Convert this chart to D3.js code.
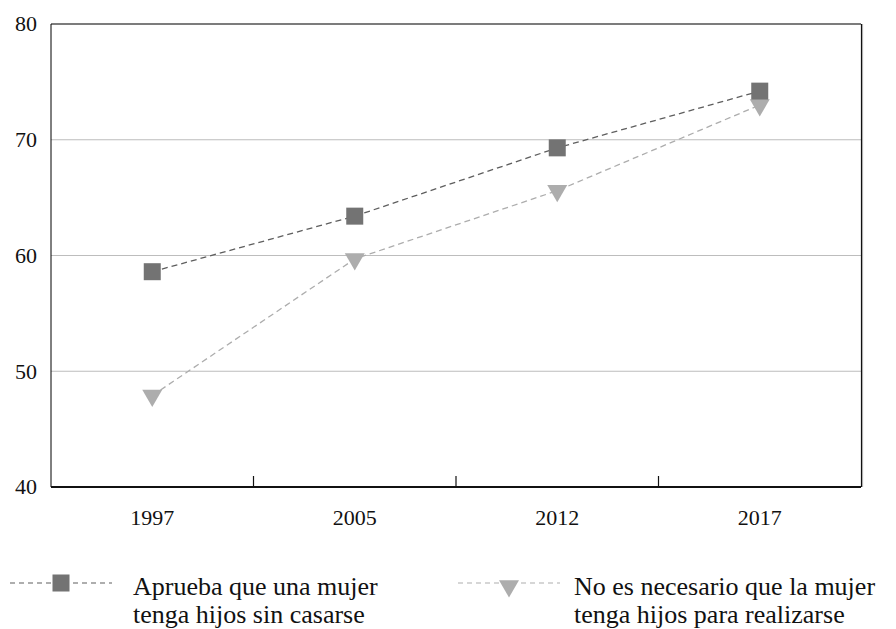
<!DOCTYPE html>
<html>
<head>
<meta charset="utf-8">
<script src="https://cdn.jsdelivr.net/npm/d3@7"></script>
<style>
  html, body { margin: 0; padding: 0; background: #fff; }
  svg { display: block; font-family: "Liberation Serif", "Times New Roman", serif; }
</style>
</head>
<body>
<svg id="chart" width="896" height="629"></svg>
<script>
const years = ["1997", "2005", "2012", "2017"];
const apruebaValues = [58.6, 63.4, 69.3, 74.2];
const noNecesarioValues = [47.9, 59.7, 65.6, 73.0];
const yTicks = [40, 50, 60, 70, 80];
const seriesNames = [
  ["Aprueba que una mujer", "tenga hijos sin casarse"],
  ["No es necesario que la mujer", "tenga hijos para realizarse"]
];

(function () {
const svg = d3.select("#chart");
const pL = 51, pR = 861, pT = 24, pB = 487;

const x = d3.scaleBand().domain(years).range([pL, pR]).padding(0);
const y = d3.scaleLinear().domain([40, 80]).range([pB, pT]);

// gridlines
svg.append("g").selectAll("line")
  .data(yTicks.filter(d => d > 40 && d < 80))
  .join("line")
  .attr("x1", pL).attr("x2", pR)
  .attr("y1", d => y(d)).attr("y2", d => y(d))
  .attr("stroke", "#bdbdbd").attr("stroke-width", 1.2);

// frame: top and right
svg.append("line").attr("x1", pL).attr("x2", pR).attr("y1", pT).attr("y2", pT)
  .attr("stroke", "#505050").attr("stroke-width", 1.5);
svg.append("line").attr("x1", pR + 0.5).attr("x2", pR + 0.5).attr("y1", pT).attr("y2", pB)
  .attr("stroke", "#111").attr("stroke-width", 1.2);
svg.append("line").attr("x1", pR + 1.6).attr("x2", pR + 1.6).attr("y1", pT).attr("y2", pB)
  .attr("stroke", "#aaa").attr("stroke-width", 1);

// left axis
svg.append("line").attr("x1", pL).attr("x2", pL).attr("y1", pT).attr("y2", pB)
  .attr("stroke", "#000").attr("stroke-width", 1);

svg.append("g").selectAll("text")
  .data(yTicks)
  .join("text")
  .attr("x", 37).attr("y", d => y(d)).attr("dy", "0.33em")
  .attr("text-anchor", "end")
  .attr("font-size", 22)
  .attr("fill", "#111")
  .text(d => d);

// bottom axis
svg.append("line").attr("x1", pL).attr("x2", pR).attr("y1", pB).attr("y2", pB)
  .attr("stroke", "#111").attr("stroke-width", 2);
const boundaries = years.slice(1).map(d => x(d));
svg.append("g").selectAll("line")
  .data(boundaries)
  .join("line")
  .attr("x1", d => d).attr("x2", d => d)
  .attr("y1", pB).attr("y2", pB - 11)
  .attr("stroke", "#111").attr("stroke-width", 1.2);

svg.append("g").selectAll("text")
  .data(years)
  .join("text")
  .attr("x", d => x(d) + x.bandwidth() / 2)
  .attr("y", 525)
  .attr("text-anchor", "middle")
  .attr("font-size", 22)
  .attr("fill", "#111")
  .text(d => d);

const cx = d => x(d) + x.bandwidth() / 2;
const line = d3.line().x(d => cx(d.year)).y(d => y(d.v));

const s1 = years.map((yr, i) => ({ year: yr, v: apruebaValues[i] }));
const s2 = years.map((yr, i) => ({ year: yr, v: noNecesarioValues[i] }));

const dark = "#737373", darkLine = "#5e5e5e";
const light = "#adadad", lightLine = "#adadad";

svg.append("path").datum(s2).attr("d", line)
  .attr("fill", "none").attr("stroke", lightLine).attr("stroke-width", 1.3)
  .attr("stroke-dasharray", "6,4");
svg.append("path").datum(s1).attr("d", line)
  .attr("fill", "none").attr("stroke", darkLine).attr("stroke-width", 1.3)
  .attr("stroke-dasharray", "6,4");

const tri = d3.symbol().type(d3.symbolTriangle).size(173);
const sq = 17;

svg.append("g").selectAll("path")
  .data(s2)
  .join("path")
  .attr("d", tri)
  .attr("transform", d => `translate(${cx(d.year)},${y(d.v)}) rotate(180)`)
  .attr("fill", light);

svg.append("g").selectAll("rect")
  .data(s1)
  .join("rect")
  .attr("x", d => cx(d.year) - sq / 2)
  .attr("y", d => y(d.v) - sq / 2)
  .attr("width", sq).attr("height", sq)
  .attr("fill", dark);

// legend
const legendItems = [
  { name: seriesNames[0], x0: 10, x1: 112, tx: 133, color: dark, lineColor: darkLine, shape: "square" },
  { name: seriesNames[1], x0: 458, x1: 560, tx: 574, color: light, lineColor: lightLine, shape: "triangle" }
];
const ly = 583;
legendItems.forEach(it => {
  const g = svg.append("g");
  g.append("line").attr("x1", it.x0).attr("x2", it.x1).attr("y1", ly).attr("y2", ly)
    .attr("stroke", it.lineColor).attr("stroke-width", 1.1).attr("stroke-dasharray", "5,4");
  const mx = (it.x0 + it.x1) / 2;
  if (it.shape === "square") {
    g.append("rect").attr("x", mx - sq / 2).attr("y", ly - sq / 2)
      .attr("width", sq).attr("height", sq).attr("fill", it.color);
  } else {
    g.append("path").attr("d", tri)
      .attr("transform", `translate(${mx},${ly + 3}) rotate(180)`)
      .attr("fill", it.color);
  }
  const t = g.append("text").attr("x", it.tx).attr("y", 595)
    .attr("font-size", 26).attr("fill", "#111");
  it.name.forEach((ln, i) => {
    t.append("tspan").attr("x", it.tx).attr("y", 595 + i * 28).text(ln);
  });
});
})();
</script>
</body>
</html>
